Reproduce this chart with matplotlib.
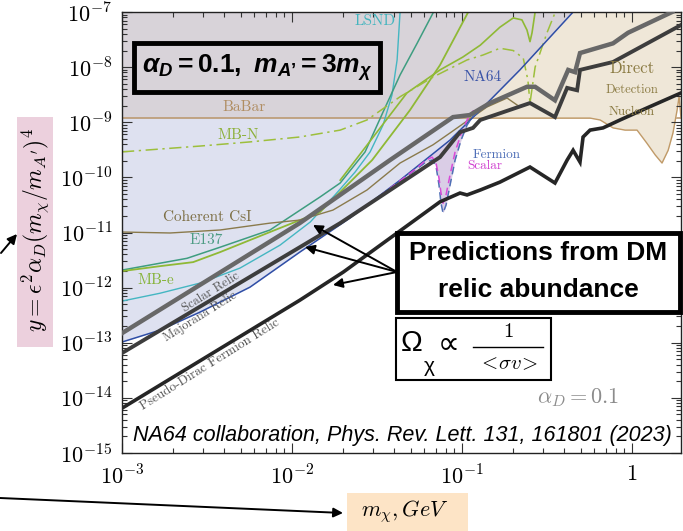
import numpy as np
import matplotlib
matplotlib.use("Agg")
import matplotlib.pyplot as plt
from matplotlib.patches import Rectangle
from matplotlib.lines import Line2D
from matplotlib.ticker import FixedLocator, LogLocator, NullFormatter

plt.rcParams.update({
    "mathtext.fontset": "cm",
    "mathtext.rm": "Liberation Sans:bold",
    "mathtext.it": "Liberation Sans:italic:bold",
    "mathtext.bf": "Liberation Sans:bold",
})

# ---------------- data: m_chi in GeV, y = eps^2 alpha_D (m_chi/m_A')^4 ----------------
babar_m = [1.0e-3, 2.0]
babar_y = [1.2e-9, 1.2e-9]

na64_m = [1.0e-3, 1.67e-3, 2.88e-3, 5.66e-3, 1.11e-2, 2.19e-2, 4.32e-2, 8.5e-2, 0.128, 0.219, 0.45]
na64_y = [1.03e-13, 1.69e-13, 3.6e-13, 1.02e-12, 4.4e-12, 1.83e-11, 8.9e-11, 4.75e-10, 1.66e-9, 8.9e-9, 1.0e-7]

lsnd_m = [1.0e-3, 1.67e-3, 2.88e-3, 4.94e-3, 8.5e-3, 1.28e-2, 1.79e-2, 2.35e-2, 2.88e-2, 3.43e-2, 3.87e-2, 4.15e-2, 4.32e-2]
lsnd_y = [5.7e-13, 7.9e-13, 1.21e-12, 2.26e-12, 5.9e-12, 1.55e-11, 4.8e-11, 1.25e-10, 2.9e-10, 8.9e-10, 3.1e-9, 1.35e-8, 1.0e-7]

e137_m = [1.0e-3, 2.41e-3, 3.77e-3, 7.42e-3, 1.46e-2, 1.92e-2, 2.69e-2, 3.43e-2, 4.32e-2, 5.44e-2, 6.75e-2]
e137_y = [2.08e-12, 3.4e-12, 5.4e-12, 1.11e-11, 4.4e-11, 7.9e-11, 2.9e-10, 1.53e-9, 7.2e-9, 2.7e-8, 9.6e-8]

mbe_m = [1.0e-3, 1.67e-3, 2.62e-3, 3.77e-3, 7.42e-3, 1.46e-2, 2.96e-2, 4.94e-2, 7.42e-2, 0.108]
mbe_y = [1.99e-12, 2.45e-12, 2.9e-12, 4.4e-12, 1.02e-11, 2.34e-11, 2.06e-10, 1.66e-9, 1.09e-8, 9.6e-8]

mb_upper_m = [1.92e-2, 4.74e-2, 7.42e-2, 0.101, 0.128, 0.167, 0.200, 0.225, 0.241, 0.251, 0.258, 0.269]
mb_upper_y = [8.9e-11, 3.4e-9, 8.9e-9, 1.52e-8, 2.5e-8, 5.3e-8, 7.8e-8, 7.2e-8, 4.7e-8, 2.9e-8, 4.2e-8, 1.0e-7]

mbn_m = [1.0e-3, 2.88e-3, 5.66e-3, 1.11e-2, 1.92e-2, 2.76e-2, 4.32e-2, 6.75e-2, 0.107, 0.133, 0.167, 0.200, 0.229, 0.244, 0.251, 0.269, 0.316, 0.352]
mbn_y = [2.9e-10, 3.7e-10, 4.4e-10, 5.4e-10, 7.2e-10, 1.1e-9, 2.9e-9, 6.6e-9, 1.35e-8, 1.66e-8, 2.2e-8, 2.0e-8, 1.46e-8, 5.8e-9, 2.23e-9, 1.0e-8, 4.2e-8, 9.6e-8]

csi_m = [1.0e-3, 1.92e-3, 3.77e-3, 7.42e-3, 1.11e-2, 1.74e-2, 2.76e-2, 4.32e-2, 6.75e-2, 8.5e-2, 0.140, 0.184, 0.211]
csi_y = [1.02e-11, 9.8e-12, 1.11e-11, 1.48e-11, 1.68e-11, 2.55e-11, 5.9e-11, 1.82e-10, 3.9e-10, 6.4e-10, 1.89e-9, 2.75e-9, 2.05e-9]

dd_m = [0.111, 0.566, 0.649, 0.773, 0.910, 1.07, 1.22, 1.37, 1.50, 1.63, 1.74, 1.84, 1.89, 1.94]
dd_y = [1.19e-9, 1.19e-9, 1.10e-9, 7.9e-10, 7.2e-10, 7.2e-10, 4.2e-10, 2.54e-10, 1.82e-10, 3.1e-10, 6.4e-10, 1.66e-9, 2.9e-9, 1.19e-9]

fermion_m = [2.51e-2, 3.29e-2, 4.62e-2, 5.51e-2, 6.14e-2, 6.67e-2, 7.03e-2, 7.32e-2, 7.52e-2, 7.73e-2, 8.05e-2, 8.5e-2, 9.10e-2, 9.87e-2, 0.107, 0.116, 0.128]
fermion_y = [2.45e-11, 4.58e-11, 1.01e-10, 1.48e-10, 1.9e-10, 2.06e-10, 1.6e-10, 7.25e-11, 3.4e-11, 2.25e-11, 3.14e-11, 7.25e-11, 2.06e-10, 4.75e-10, 8.9e-10, 1.3e-9, 1.66e-9]

scalar_m = [2.51e-2, 3.29e-2, 4.62e-2, 5.51e-2, 6.14e-2, 6.67e-2, 7.03e-2, 7.32e-2, 7.52e-2, 7.73e-2, 8.05e-2, 8.5e-2, 9.10e-2, 9.87e-2, 0.107, 0.116, 0.128]
scalar_y = [2.45e-11, 4.58e-11, 1.01e-10, 1.54e-10, 2.06e-10, 2.33e-10, 1.82e-10, 9.7e-11, 5.2e-11, 3.4e-11, 4.8e-11, 1.1e-10, 2.9e-10, 6.1e-10, 1.1e-9, 1.6e-9, 1.66e-9]

relic_scalar_m = [1.0e-3, 1.11e-2, 3.77e-2, 8.85e-2, 0.111, 0.146, 0.241, 0.269, 0.352, 0.421, 0.462, 0.494, 0.773, 0.947, 1.72]
relic_scalar_y = [1.49e-13, 1.48e-11, 2.06e-10, 1.24e-9, 1.35e-9, 2.23e-9, 4.4e-9, 4.4e-9, 2.5e-9, 8.9e-9, 8.1e-9, 1.8e-8, 2.7e-8, 4.2e-8, 1.0e-7]

relic_major_m = [1.0e-3, 1.11e-2, 1.92e-2, 7.42e-2, 9.73e-2, 0.116, 0.128, 0.251, 0.352, 0.415, 0.475, 0.494, 0.773, 1.94]
relic_major_y = [6.5e-14, 5.4e-12, 1.48e-11, 2.33e-10, 6.6e-10, 7.9e-10, 1.1e-9, 2.23e-9, 1.24e-9, 4.2e-9, 3.8e-9, 8.9e-9, 1.24e-8, 5.8e-8]

relic_pdirac_m = [1.0e-3, 1.11e-2, 2.0e-2, 7.42e-2, 9.73e-2, 0.107, 0.128, 0.167, 0.251, 0.352, 0.415, 0.450, 0.494, 0.515, 0.566, 0.675, 0.850, 1.22, 1.94]
relic_pdirac_y = [6.5e-15, 5.9e-13, 1.91e-12, 3.6e-11, 5.2e-11, 4.8e-11, 5.9e-11, 8.2e-11, 1.54e-10, 7.9e-11, 2.06e-10, 3.1e-10, 1.9e-10, 5.4e-10, 7.2e-10, 7.9e-10, 1.1e-9, 1.81e-9, 3.4e-9]

xticks = [1e-3, 1e-2, 1e-1, 1.0]
xtick_labels = [r"$10^{-3}$", r"$10^{-2}$", r"$10^{-1}$", r"$1$"]
yticks = [1e-15, 1e-14, 1e-13, 1e-12, 1e-11, 1e-10, 1e-9, 1e-8, 1e-7]
ytick_labels = [r"$10^{-15}$", r"$10^{-14}$", r"$10^{-13}$", r"$10^{-12}$", r"$10^{-11}$",
                r"$10^{-10}$", r"$10^{-9}$", r"$10^{-8}$", r"$10^{-7}$"]

# ---------------- colours ----------------
LAV = "#dee1f0"
MAUVE = "#d8d3d9"
BEIGE = "#efe7d8"
PURPLE = "#dacde6"
C_BABAR = "#b9956a"
C_LSND = "#44b6c2"
C_E137 = "#3e9d80"
C_MBE = "#8fb935"
C_MBN = "#9dbf3c"
C_CSI = "#8a7a4c"
C_NA64 = "#2f4ea6"
C_DD = "#c09a68"

W, H = 683, 531


def fx(px):
    return px / W


def fy(py):
    return 1 - py / H


def logi(x, xp, fp):
    return 10 ** np.interp(np.log10(x), np.log10(xp), np.log10(fp))


fig = plt.figure(figsize=(W / 100, H / 100), dpi=100)
ax = fig.add_axes([fx(122), fy(453), (681 - 122) / W, (453 - 12) / H])
ax.set_xscale("log")
ax.set_yscale("log")
ax.set_xlim(1e-3, 1.94)
ax.set_ylim(1e-15, 1e-7)

# ---------------- excluded regions ----------------
grid = np.geomspace(1e-3, 1.94, 800)
na64_g = logi(grid, na64_m, na64_y)
ax.fill_between(grid, na64_g, 1e-7, color=LAV, lw=0, zorder=0.5)
ax.fill_between(grid, np.maximum(na64_g, babar_y[0]), 1e-7, color=MAUVE, lw=0, zorder=0.6)

dgrid = np.geomspace(dd_m[0], dd_m[-1], 600)
dd_low = logi(dgrid, dd_m, dd_y)
dd_up = logi(dgrid, na64_m, na64_y)
ax.plot(babar_m, babar_y, color=C_BABAR, lw=1.1, zorder=1.0)
ax.fill_between(dgrid, dd_low, dd_up, where=dd_up > dd_low, color=BEIGE, lw=0, zorder=1.1)
ax.plot(dd_m, dd_y, color=C_DD, lw=1.0, zorder=1.2)

fgrid = np.geomspace(fermion_m[0], fermion_m[-1], 300)
f_low = logi(fgrid, fermion_m, fermion_y)
f_up = logi(fgrid, na64_m, na64_y)
ax.fill_between(fgrid, f_low, f_up, where=f_up > f_low, color=PURPLE, lw=0, zorder=1.3)

# ---------------- experimental limits ----------------
ax.plot(lsnd_m, lsnd_y, color=C_LSND, lw=1.0, zorder=2)
ax.plot(e137_m, e137_y, color=C_E137, lw=1.1, zorder=2)
ax.plot(mbe_m, mbe_y, color=C_MBE, lw=1.3, zorder=2)
ax.plot(mb_upper_m, mb_upper_y, color=C_MBE, lw=1.2, zorder=2)
ax.plot(mbn_m, mbn_y, color=C_MBN, lw=1.1, ls=(0, (8, 3, 1.5, 3)), zorder=2)
ax.plot(csi_m, csi_y, color=C_CSI, lw=1.0, zorder=2)
ax.plot(na64_m, na64_y, color=C_NA64, lw=1.1, zorder=2.5)
ax.plot(fermion_m, fermion_y, color="#4f6fb5", lw=1.1, ls=(0, (5, 3)), zorder=2.6)
ax.plot(scalar_m, scalar_y, color="#d84ad8", lw=1.1, ls=(0, (5, 3)), zorder=2.7)

# ---------------- relic targets ----------------
ax.plot(relic_scalar_m, relic_scalar_y, color="#686868", lw=3.2, zorder=4, solid_joinstyle="miter")
ax.plot(relic_major_m, relic_major_y, color="#3d3d3d", lw=2.8, zorder=4, solid_joinstyle="miter")
ax.plot(relic_pdirac_m, relic_pdirac_y, color="#262626", lw=2.6, zorder=4, solid_joinstyle="miter")

# ---------------- axes styling ----------------
ax.xaxis.set_major_locator(FixedLocator(xticks))
ax.set_xticklabels(xtick_labels)
ax.xaxis.set_minor_locator(LogLocator(base=10, subs=np.arange(2, 10), numticks=30))
ax.xaxis.set_minor_formatter(NullFormatter())
ax.yaxis.set_major_locator(FixedLocator(yticks))
ax.set_yticklabels(ytick_labels)
ax.yaxis.set_minor_locator(LogLocator(base=10, subs=np.arange(2, 10), numticks=30))
ax.yaxis.set_minor_formatter(NullFormatter())
ax.tick_params(which="both", direction="in", top=True, right=True, color="#333333", width=0.8)
ax.tick_params(which="major", length=7, labelsize=16)
ax.tick_params(which="minor", length=3.5)
ax.tick_params(axis="x", which="major", pad=8)
ax.tick_params(axis="y", which="major", pad=7)
for sp in ax.spines.values():
    sp.set_color("#222222")
    sp.set_linewidth(1.0)

# ---------------- curve labels ----------------
def lab(px, py, s, color, size, rot=0.0):
    fig.text(fx(px), fy(py), s, color=color, fontsize=size, fontfamily="cmr10",
             ha="center", va="center", rotation=rot, rotation_mode="anchor", zorder=6)


lab(244, 107, "BaBar", "#b08d62", 11)
lab(238, 135, "MB-N", "#8db03a", 11)
lab(375, 21, "LSND", "#45b5bf", 11)
lab(483, 77, "NA64", "#3a54a8", 11)
lab(632, 68, "Direct", "#8a7a42", 12)
lab(632, 90, "Detection", "#8a7a42", 9)
lab(632, 112, "Nucleon", "#8a7a42", 9.5)
lab(207, 217, "Coherent CsI", "#7d6f45", 11)
lab(206, 240, "E137", "#4d9c84", 11)
lab(156, 280, "MB-e", "#86b33a", 11)
lab(497, 155, "Fermion", "#5070b8", 9.5)
lab(485, 166, "Scalar", "#d040d0", 9.5)
lab(211, 292, "Scalar Relic", "#555555", 9, 32)
lab(200, 317, "Majorana Relic", "#555555", 9, 32)
lab(210, 365, "Pseudo-Dirac Fermion Relic", "#555555", 9.5, 32)

fig.text(fx(578), fy(398), r"$\alpha_D = 0.1$", color="#8c8c8c", fontsize=16,
         ha="center", va="center")

fig.text(fx(133), fy(436), "NA64 collaboration, Phys. Rev. Lett. 131, 161801 (2023)",
         fontfamily="Liberation Sans", style="italic", fontsize=15.5, ha="left", va="center")

# ---------------- annotation boxes ----------------
def box(x0, y0, x1, y1, lw, face="none", edge="black"):
    fig.add_artist(Rectangle((fx(x0), fy(y1)), (x1 - x0) / W, (y1 - y0) / H,
                             transform=fig.transFigure, facecolor=face, edgecolor=edge,
                             lw=lw, zorder=7))


box(134, 43, 380, 92, 3.5)
fig.text(fx(257), fy(68), r"$\alpha_D = 0.1,\ m_{A’} = 3m_\chi$", math_fontfamily="custom",
         fontsize=19, ha="center", va="center", zorder=8)

box(397, 233, 680, 312, 3.5, face="white")
fig.text(fx(538), fy(253), "Predictions from DM", fontfamily="Liberation Sans",
         fontweight="bold", fontsize=19, ha="center", va="center", zorder=8)
fig.text(fx(538), fy(290), "relic abundance", fontfamily="Liberation Sans",
         fontweight="bold", fontsize=19, ha="center", va="center", zorder=8)

box(396, 318, 551, 380, 1.5, face="white")
fig.text(fx(412), fy(343), "Ω", fontfamily="Liberation Sans", fontsize=21, ha="center", va="center", zorder=8)
fig.text(fx(429), fy(367), "χ", fontfamily="Liberation Sans", fontsize=15, ha="center", va="center", zorder=8)
fig.text(fx(449), fy(345), "∝", fontfamily="DejaVu Sans", fontsize=22, ha="center", va="center", zorder=8)
fig.text(fx(508), fy(331), r"$1$", fontsize=15, ha="center", va="center", zorder=8)
fig.add_artist(Line2D([fx(473), fx(543)], [fy(347), fy(347)], transform=fig.transFigure,
                      color="black", lw=1.0, zorder=8))
fig.text(fx(508), fy(363), r"$<\!\sigma v\!>$", fontsize=15, ha="center", va="center", zorder=8)

# axis titles in coloured boxes
box(17, 117, 53, 347, 0, face="#ecd0dd", edge="none")
fig.text(fx(35), fy(230), r"$y = \epsilon^2\alpha_D(m_\chi/m_{A'})^4$", fontsize=17,
         rotation=90, ha="center", va="center", zorder=8)
box(347, 493, 468, 531, 0, face="#fde4c6", edge="none")
fig.text(fx(405), fy(512), r"$m_\chi, GeV$", fontsize=16, ha="center", va="center", zorder=8)

# ---------------- arrows ----------------
def arrow(x0, y0, x1, y1):
    ax.annotate("", xy=(x1, H - y1), xytext=(x0, H - y0), xycoords="figure pixels",
                textcoords="figure pixels", annotation_clip=False,
                arrowprops=dict(arrowstyle="-|>", color="black", lw=1.4,
                                mutation_scale=14, shrinkA=0, shrinkB=0), zorder=9)


arrow(397, 272, 313, 225)
arrow(397, 272, 305, 247)
arrow(397, 272, 333, 285)
arrow(0, 498, 343, 513)
arrow(1, 253, 17, 234)

fig.savefig("out.png", dpi=100)
